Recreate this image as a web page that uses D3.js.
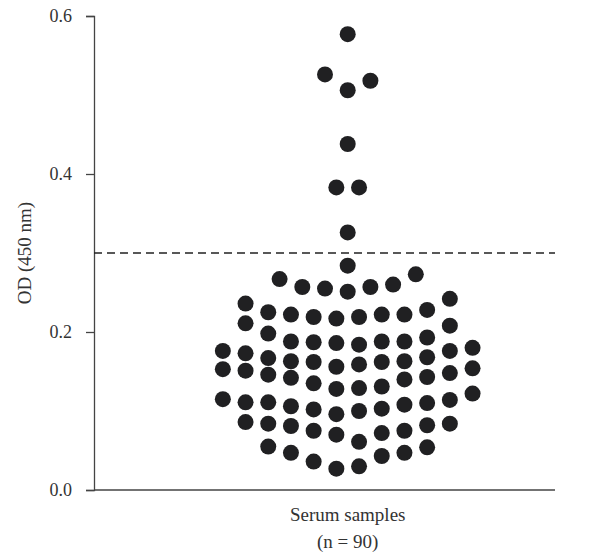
<!DOCTYPE html>
<html>
<head>
<meta charset="utf-8">
<script src="https://cdn.jsdelivr.net/npm/d3@7"></script>
<style>
  body { margin: 0; background: #fff; }
  text { font-family: "Liberation Serif", "DejaVu Serif", serif; fill: #333; }
</style>
</head>
<body>
<div id="chart"></div>
<script>
// OD values, row by row (top to bottom)
var odValues = [
  0.577, 0.526, 0.506, 0.518, 0.438, 0.383, 0.383, 0.326,
  0.284,
  0.267, 0.257, 0.255, 0.251, 0.257, 0.260, 0.273,
  0.236, 0.225, 0.222, 0.219, 0.217, 0.219, 0.222, 0.222, 0.228, 0.242,
  0.211, 0.198, 0.188, 0.187, 0.186, 0.184, 0.188, 0.188, 0.193, 0.208,
  0.176, 0.173, 0.167, 0.163, 0.162, 0.156, 0.159, 0.162, 0.163, 0.168, 0.176, 0.180,
  0.153, 0.151, 0.146, 0.142, 0.135, 0.128, 0.129, 0.131, 0.140, 0.143, 0.148, 0.154,
  0.115, 0.111, 0.111, 0.106, 0.102, 0.096, 0.100, 0.103, 0.108, 0.110, 0.114, 0.122,
  0.086, 0.084, 0.081, 0.075, 0.070, 0.061, 0.072, 0.075, 0.082, 0.084,
  0.055, 0.047, 0.036, 0.027, 0.030, 0.043, 0.047, 0.054
];
// swarm lane of each sample (half-dot steps from the centre)
var swarmSlot = [
  0, -2, 0, 2, 0, -1, 1, 0,
  0,
  -6, -4, -2, 0, 2, 4, 6,
  -9, -7, -5, -3, -1, 1, 3, 5, 7, 9,
  -9, -7, -5, -3, -1, 1, 3, 5, 7, 9,
  -11, -9, -7, -5, -3, -1, 1, 3, 5, 7, 9, 11,
  -11, -9, -7, -5, -3, -1, 1, 3, 5, 7, 9, 11,
  -11, -9, -7, -5, -3, -1, 1, 3, 5, 7, 9, 11,
  -9, -7, -5, -3, -1, 1, 3, 5, 7, 9,
  -7, -5, -3, -1, 1, 3, 5, 7
];
var yTicks = [0.0, 0.2, 0.4, 0.6];
var cutoff = 0.3;
var groupLabel = ["Serum samples", "(n = 90)"];
var yLabel = "OD (450 nm)";

var width = 595, height = 552;
var margin = { top: 16, right: 40, bottom: 62, left: 94 };

var svg = d3.select("#chart").append("svg")
    .attr("width", width)
    .attr("height", height);

var y = d3.scaleLinear()
    .domain([0, 0.6])
    .range([height - margin.bottom, margin.top]);

var xCentre = 347.7;
var x = d3.scaleLinear()
    .domain([-1, 1])
    .range([xCentre - 11.35, xCentre + 11.35]);

var plotRight = width - margin.right;

// y axis
var yAxis = svg.append("g")
    .attr("transform", "translate(" + margin.left + ",0)")
    .call(d3.axisLeft(y).tickValues(yTicks).tickFormat(d3.format(".1f")).tickSize(8).tickPadding(14));
yAxis.select(".domain").attr("stroke", "#444").attr("stroke-width", 1.3);
yAxis.selectAll(".tick line").attr("stroke", "#444").attr("stroke-width", 1.3);
yAxis.selectAll(".tick text")
    .attr("font-size", 18).style("font-size", "18px")
    .style("font-family", "Liberation Serif, serif").attr("fill", "#333");

// x axis line
svg.append("line")
    .attr("x1", margin.left).attr("x2", plotRight)
    .attr("y1", y(0)).attr("y2", y(0))
    .attr("stroke", "#444").attr("stroke-width", 1.3);

// cutoff line
svg.append("line")
    .attr("x1", margin.left).attr("x2", plotRight)
    .attr("y1", y(cutoff)).attr("y2", y(cutoff))
    .attr("stroke", "#222").attr("stroke-width", 1.3)
    .attr("stroke-dasharray", "8,5");

// dots
svg.append("g").selectAll("circle")
    .data(odValues)
    .enter().append("circle")
    .attr("cx", function(d, i) { return x(swarmSlot[i]); })
    .attr("cy", function(d) { return y(d); })
    .attr("r", 8)
    .attr("fill", "#202022");

// labels
svg.append("text")
    .attr("transform", "translate(31," + y(0.3) + ") rotate(-90)")
    .attr("text-anchor", "middle")
    .style("font-size", "19px")
    .text(yLabel);

svg.selectAll(".xlab")
    .data(groupLabel)
    .enter().append("text")
    .attr("class", "xlab")
    .attr("x", xCentre)
    .attr("y", function(d, i) { return 521 + i * 27; })
    .attr("text-anchor", "middle")
    .style("font-size", "19px")
    .text(function(d) { return d; });
</script>
</body>
</html>
